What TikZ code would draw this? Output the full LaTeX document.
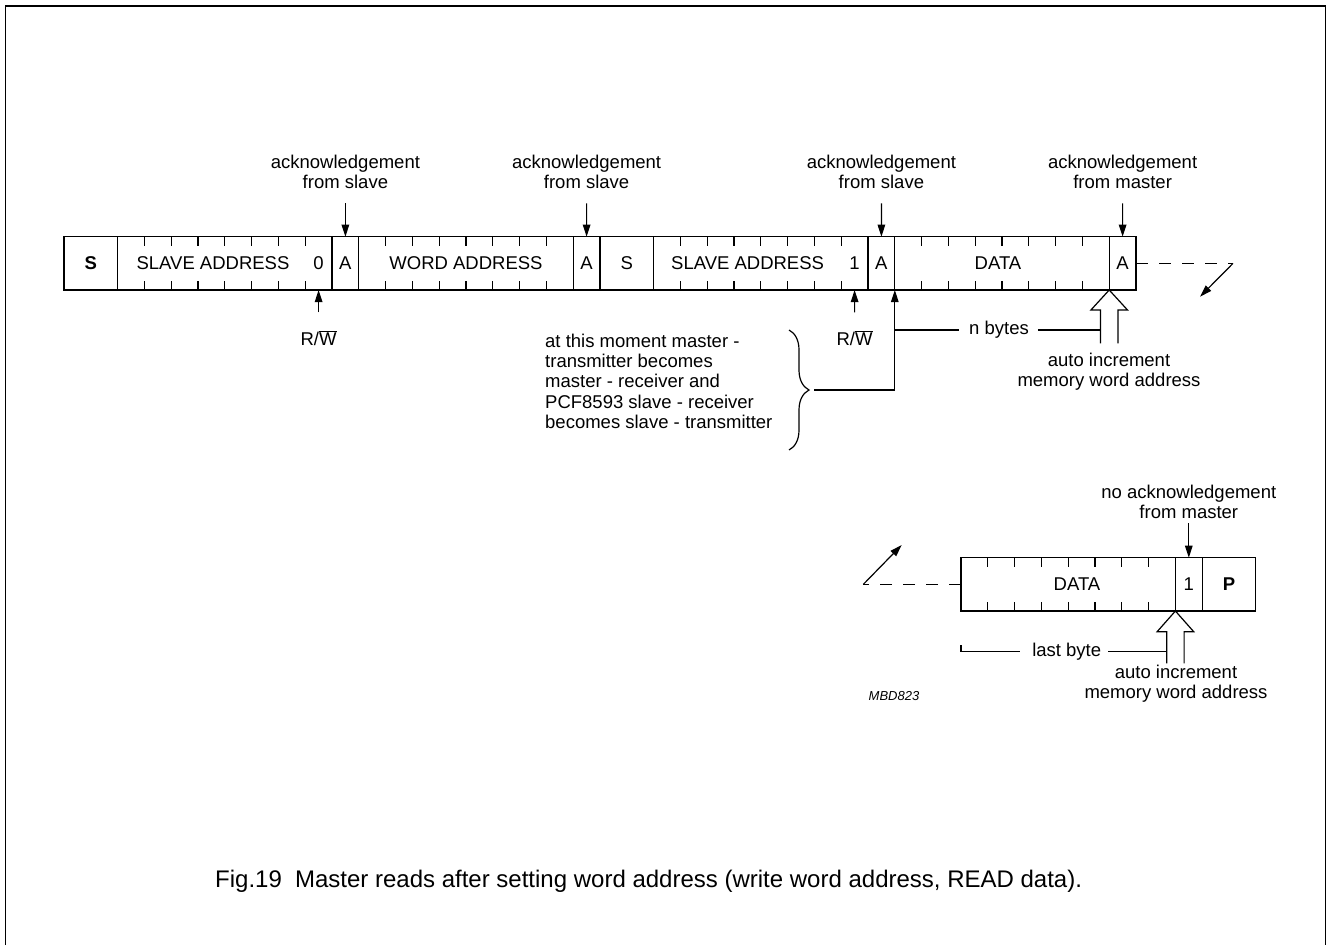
\documentclass[tikz,border=0pt]{standalone}
\usepackage{fontspec}
\setmainfont{Liberation Sans}
\usetikzlibrary{arrows.meta,decorations.pathreplacing}
\tikzset{
  lbl/.style={font=\fontsize{18.5}{20}\selectfont, inner sep=0pt, outer sep=0pt},
  blbl/.style={font=\fontsize{18.5}{20}\selectfont\bfseries, inner sep=0pt, outer sep=0pt},
  cell/.style={draw, line width=1.2pt, minimum height=53.3pt, inner sep=0pt, outer sep=0pt, anchor=west},
  tick/.style={line width=1.2pt},
  arr/.style={line width=1.2pt, -{Triangle[length=12pt,width=7.5pt]}},
  hollow/.style={line width=1.2pt, line join=miter},
  dsh/.style={line width=1.2pt, dash pattern=on 12pt off 11pt},
}
\begin{document}
\begin{tikzpicture}[x=1pt,y=-1pt]
\useasboundingbox (0,0) rectangle (1327,945);
% frame
\draw[line width=1.5pt] (5.5,945) -- (5.5,6) -- (1325.5,6) -- (1325.5,945);

% ---------- row 1 cells ----------
\node[cell, minimum width=53.6pt]  (s1)    at (64,263.35) {};
\node[cell, minimum width=214.4pt] (sa1)   at (s1.east) {};
\node[cell, minimum width=26.8pt]  (a1)    at (sa1.east) {};
\node[cell, minimum width=214.4pt] (wa1)   at (a1.east) {};
\node[cell, minimum width=26.8pt]  (a2)    at (wa1.east) {};
\node[cell, minimum width=53.6pt]  (s2)    at (a2.east) {};
\node[cell, minimum width=214.4pt] (sa2)   at (s2.east) {};
\node[cell, minimum width=26.8pt]  (a3)    at (sa2.east) {};
\node[cell, minimum width=214.4pt] (data1) at (a3.east) {};
\node[cell, minimum width=26.8pt]  (a4)    at (data1.east) {};

\foreach \c in {sa1,wa1,sa2,data1}{
  \foreach \k in {1,...,7}{
    \draw[tick] ([xshift=\k*26.8pt]\c.north west) -- ++(0,9);
    \draw[tick] ([xshift=\k*26.8pt]\c.south west) -- ++(0,-9);
  }
}

% cell texts row 1
\node[blbl, anchor=base] (ts1)  at (90.8,269.3)  {S};
\node[lbl, anchor=base]  (tsa1) at (213,269.3)   {SLAVE ADDRESS};
\node[lbl, anchor=base]  (t0)   at (318.6,269.3) {0};
\node[lbl, anchor=base]  (ta1)  at (345.4,269.3) {A};
\node[lbl, anchor=base]  (twa)  at (466,269.3)   {WORD ADDRESS};
\node[lbl, anchor=base]  (ta2)  at (586.6,269.3) {A};
\node[lbl, anchor=base]  (ts2)  at (626.8,269.3) {S};
\node[lbl, anchor=base]  (tsa2) at (747.6,269.3) {SLAVE ADDRESS};
\node[lbl, anchor=base]  (t1)   at (854.6,269.3) {1};
\node[lbl, anchor=base]  (ta3)  at (881.4,269.3) {A};
\node[lbl, anchor=base]  (td1)  at (998,269.3)   {DATA};
\node[lbl, anchor=base]  (ta4)  at (1122.6,269.3){A};

% acknowledgement labels row 1
\node[lbl, align=center, anchor=south] (ack1) at (345.4,189) {acknowledgement\\from slave};
\node[lbl, align=center, anchor=south] (ack2) at (586.6,189) {acknowledgement\\from slave};
\node[lbl, align=center, anchor=south] (ack3) at (881.4,189) {acknowledgement\\from slave};
\node[lbl, align=center, anchor=south] (ack4) at (1122.6,189) {acknowledgement\\from master};
\draw[arr] ([yshift=-14.3pt]ack1.south) -- (a1.north);
\draw[arr] ([yshift=-14.3pt]ack2.south) -- (a2.north);
\draw[arr] ([yshift=-14.3pt]ack3.south) -- (a3.north);
\draw[arr] ([yshift=-14.3pt]ack4.south) -- (a4.north);

% R/W labels
\node[lbl, anchor=base] (rw1) at (318.6,345) {R/$\overline{\hbox{W}}$};
\node[lbl, anchor=base] (rw2) at (854.6,345) {R/$\overline{\hbox{W}}$};
\draw[arr] ([yshift=18pt]rw1.north) -- ([xshift=-13.4pt]sa1.south east);
\draw[arr] ([yshift=18pt]rw2.north) -- ([xshift=-13.4pt]sa2.south east);

% brace and note
\coordinate (brt) at (789,330);
\coordinate (brb) at (789,450);
\draw[line width=1.2pt, decorate, decoration={brace, amplitude=20pt}] (brt) -- (brb);
\node[font=\fontsize{18.5}{20.4}\selectfont, inner sep=0pt, align=left, anchor=north west] (note) at (545,333.4)
  {at this moment master -\\transmitter becomes\\master - receiver and\\PCF8593 slave - receiver\\becomes slave - transmitter};
\coordinate (bt) at (814,390);
\draw[arr] (bt) -| (data1.south west);

% n bytes
\node[lbl] (nb) at (999,330) {n bytes};
\coordinate (h1) at (data1.south east);
\coordinate (h1s) at ([xshift=-8.7pt,yshift=-40pt]h1);
\draw[tick] (data1.south west |- nb.west) -- ([xshift=-10pt]nb.west);
\draw[tick] ([xshift=9pt]nb.east) -- (h1s);
\draw[hollow] (h1) ++(-8.7,53.3) -- ++(0,-33.3) -- ++(-9.6,0) -- (h1) -- ++(18.3,20) -- ++(-9.6,0) -- ++(0,33.3);
\node[lbl, align=center, anchor=north] (ai1) at (1109,353.4) {auto increment\\memory word address};

% continuation row 1
\coordinate (d1) at (1233,263.35);
\coordinate (d1e) at (1200,296.7);
\draw[dsh] (a4.east) -- (d1);
\draw[arr] (d1) -- (d1e);

% ---------- row 2 ----------
\node[cell, minimum width=214.4pt] (data2) at (961,584.35) {};
\node[cell, minimum width=26.8pt]  (one2)  at (data2.east) {};
\node[cell, minimum width=53.6pt]  (p2)    at (one2.east) {};
\foreach \k in {1,...,7}{
  \draw[tick] ([xshift=\k*26.8pt]data2.north west) -- ++(0,9);
  \draw[tick] ([xshift=\k*26.8pt]data2.south west) -- ++(0,-9);
}
\node[lbl, anchor=base]  (td2) at (1077,590.3)  {DATA};
\node[lbl, anchor=base]  (t12) at (1188.8,590.3) {1};
\node[blbl, anchor=base] (tp)  at (1229,590.3)  {P};

\node[lbl, align=center, anchor=south] (nack) at (1188.8,518.3) {no acknowledgement\\from master};
\draw[arr] ([yshift=34.6pt]one2.north) -- (one2.north);

\coordinate (d2) at (863.3,584.35);
\coordinate (d2e) at (901.7,545);
\draw[dsh] (data2.west) -- (d2);
\draw[arr] (d2) -- (d2e);

\node[lbl] (lb) at (1066.7,651.7) {last byte};
\coordinate (h2) at (data2.south east);
\coordinate (h2s) at ([xshift=-8.7pt,yshift=-40.7pt]h2);
\draw[tick] (data2.south west |- lb.west) ++(0,-6.7) -- ++(0,6.7) -- ([xshift=-12pt]lb.west);
\draw[tick] ([xshift=7pt]lb.east) -- (h2s);
\draw[hollow] (h2) ++(-8.7,52.3) -- ++(0,-31.6) -- ++(-9.6,0) -- (h2) -- ++(18.3,20.7) -- ++(-9.6,0) -- ++(0,31.6);
\node[lbl, align=center, anchor=north] (ai2) at (1176,665) {auto increment\\memory word address};

\node[font=\fontsize{13}{15}\selectfont\itshape, inner sep=0pt, anchor=base] (mbd) at (894,700.7) {MBD823};

% caption
\node[font=\fontsize{24}{28}\selectfont, inner sep=0pt, anchor=base west] (cap) at (215,887)
  {Fig.19\hspace{0.55em}Master reads after setting word address (write word address, READ data).};
\end{tikzpicture}
\end{document}
